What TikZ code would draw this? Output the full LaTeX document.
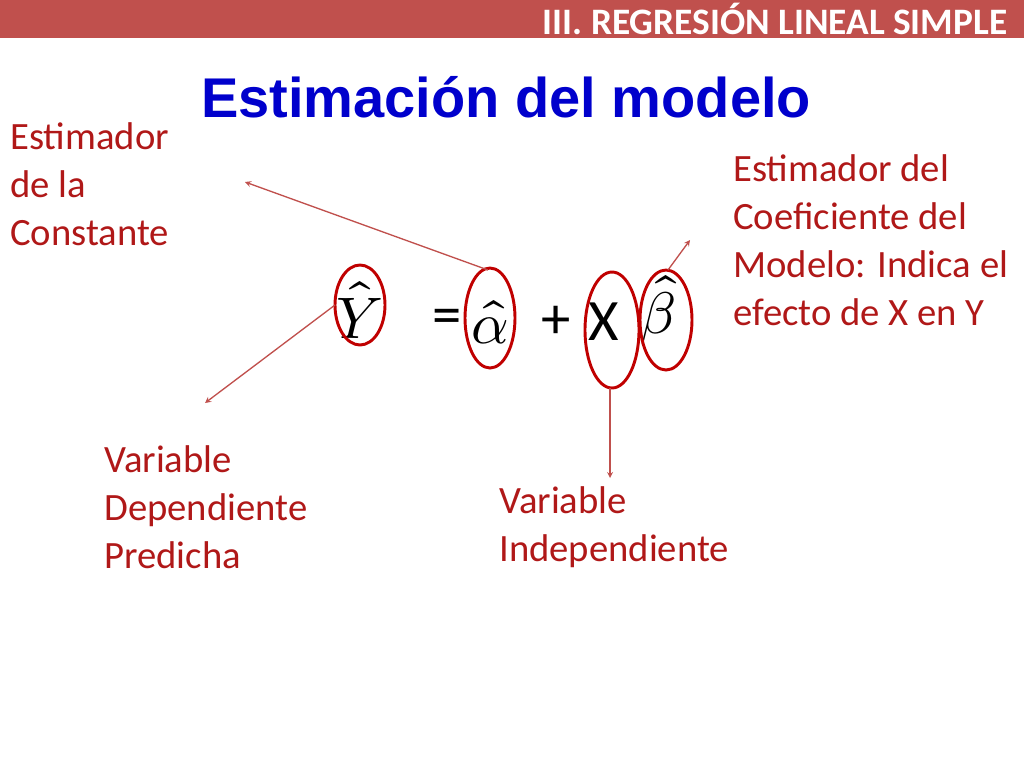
\documentclass[tikz,border=0pt]{standalone}
\usepackage{fontspec}
\usepackage{unicode-math}
\setmainfont{Carlito}
\setmathfont{Latin Modern Math}
\newfontfamily\arialf{Liberation Sans}
\definecolor{hdr}{HTML}{C0504D}
\definecolor{lab}{HTML}{B01818}
\definecolor{ttl}{HTML}{0000CC}
\definecolor{ring}{HTML}{C00000}
\begin{document}
\begin{tikzpicture}[x=0.75pt,y=-0.75pt,
  lbl/.style={anchor=north west,align=left,text=lab,font=\fontsize{29}{36}\selectfont,inner sep=0},
  eq/.style={font=\fontsize{44}{50}\selectfont,inner sep=0},
  arr/.style={draw=hdr,line width=1pt,-stealth}]
\useasboundingbox (0,0) rectangle (1024,768);
\fill[hdr] (0,0) rectangle (1024,38);
\node[anchor=east,text=white,font=\bfseries\fontsize{28}{30}\selectfont] (hd) at (1012,19) {III. REGRESIÓN LINEAL SIMPLE};
\node[text=ttl,font=\arialf\bfseries\fontsize{42}{48}\selectfont] (tt) at (506,97) {Estimación del modelo};
\node[eq] (y) at (360,310) {$\hat{Y}$};
\node[eq] (eqs) at (447,322) {=};
\node[eq] (a) at (490,322) {$\hat{\alpha}$};
\node[eq] (pl) at (556,322) {+};
\node[eq] (x) at (604,322) {X};
\node[eq] (b) at (658,310) {$\hat{\beta}$};
\draw[ring,line width=2.2pt] (360,305) ellipse (25 and 40);
\draw[ring,line width=2.2pt] (490,318) ellipse (25 and 50);
\draw[ring,line width=2.2pt] (612,330) ellipse (27 and 58);
\draw[ring,line width=2.2pt] (666,320) ellipse (26 and 50);
\coordinate (a1) at (245,182);
\coordinate (y1) at (205,403);
\coordinate (x1) at (610,478);
\coordinate (b1) at (690,240);
\draw[arr] (488,270) -- (a1);
\draw[arr] (335,305) -- (y1);
\draw[arr] (610,388) -- (x1);
\draw[arr] (668,270) -- (b1);
\node[lbl] (l1) at (10,122) {Estimador\\de la\\Constante};
\node[lbl] (l2) at (733,154) {Estimador del\\Coeficiente del\\Modelo: Indica el\\efecto de X en Y};
\node[lbl] (l3) at (104,445) {Variable\\Dependiente\\Predicha};
\node[lbl] (l4) at (499,486) {Variable\\Independiente};
\end{tikzpicture}
\end{document}
